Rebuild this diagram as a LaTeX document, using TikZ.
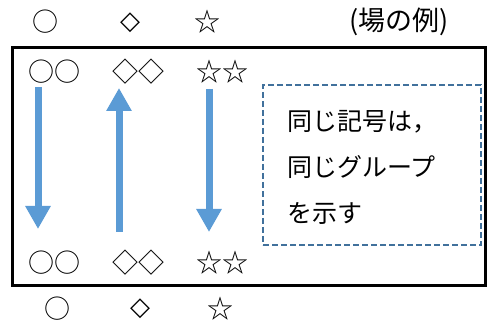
\documentclass[tikz,border=0pt]{standalone}
\usepackage{fontspec}
\setmainfont{Noto Sans CJK JP}
\newfontfamily\djfont{DejaVu Sans}
\usetikzlibrary{arrows.meta}
\definecolor{arrowblue}{HTML}{5B9BD5}
\definecolor{dashblue}{HTML}{41719C}
\begin{document}
\begin{tikzpicture}[x=1pt,y=-1pt,
  sym/.style={font=\fontsize{26}{26}\selectfont, inner sep=0pt},
  smalldia/.style={font=\djfont\bfseries\fontsize{26}{26}\selectfont, inner sep=0pt},
  bigarrow/.style={draw=arrowblue, fill=arrowblue, line width=7pt, -{Triangle[width=24pt,length=23pt]}},
  frame/.style={draw=black, line width=3pt},
  notebox/.style={draw=dashblue, line width=2pt, dash pattern=on 6pt off 3pt,
    minimum width=218pt, minimum height=160pt, inner sep=0pt},
  notetext/.style={font=\fontsize{25}{46}\selectfont, align=left, inner sep=0pt, anchor=west}]
\useasboundingbox (0,0) rectangle (491,320);
% top legend
\node[sym] (tc) at (45,22) {○};
\node[smalldia] (td) at (130,23) {◇};
\node[sym] (ts) at (207,22) {☆};
\node[font=\fontsize{27}{27}\selectfont, inner sep=0pt] (field) at (399,22) {(場の例)};
% frame
\draw[frame] (12,48) rectangle (485,286);
% inside top row
\node[sym] (c1) at (54,72) {○○};
\node[sym] (d1) at (138,72) {◇◇};
\node[sym] (s1) at (222,72) {☆☆};
% inside bottom row
\node[sym] (c2) at (54,263) {○○};
\node[sym] (d2) at (138,263) {◇◇};
\node[sym] (s2) at (222,263) {☆☆};
% bottom legend
\node[sym] (bc) at (58,309) {○};
\node[smalldia] (bd) at (140,309) {◇};
\node[sym] (bs) at (220,309) {☆};
% arrows
\coordinate (a1s) at (38,87);
\coordinate (a1e) at (38,229);
\coordinate (a2s) at (119,232);
\coordinate (a2e) at (119,88);
\coordinate (a3s) at (209,89);
\coordinate (a3e) at (209,232);
\draw[bigarrow] (a1s) -- (a1e);
\draw[bigarrow] (a2s) -- (a2e);
\draw[bigarrow] (a3s) -- (a3e);
% note box
\node[notebox] (note) at (372,165) {};
\node[notetext] (notet) at (287,167) {同じ記号は，\\同じグループ\\を示す};
\end{tikzpicture}
\end{document}
